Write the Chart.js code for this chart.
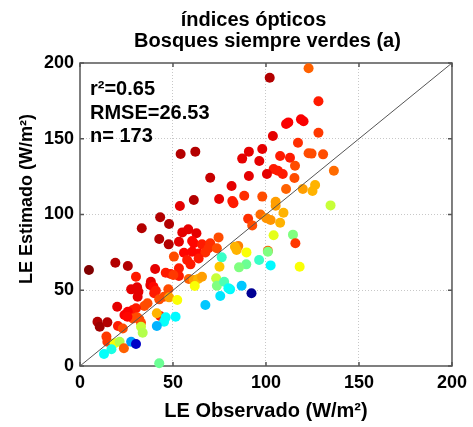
<!DOCTYPE html>
<html>
<head>
<meta charset="utf-8">
<script src="https://cdn.jsdelivr.net/npm/chart.js@4.4.0/dist/chart.umd.min.js"></script>
<style>
  html, body { margin: 0; padding: 0; background: #fff; }
  canvas { display: block; }
</style>
</head>
<body>
<canvas id="scatter" width="473" height="427"></canvas>
<script>
// LE observed vs estimated (W/m2), colour = jet index per site-day
const observed = [
  122.9, 102, 128.2, 110.8, 112, 118.8, 120.2, 128.2, 103.7, 117.2,
  90.8, 98, 87.2, 96.4, 107.6, 112.9, 122.9, 124.5, 130.7, 115.6,
  104.1, 106.4, 109, 100.5, 90.8, 115.3, 136.5, 110.8, 119.8, 126.4,
  125, 88.3, 98, 105.2, 105.2, 134.7, 97, 109.4, 90.4, 92.6,
  100.2, 102.5, 107.6, 104.1, 114.5, 115.8, 85.1, 89.5, 101, 101,
  96.3, 89.4, 85.5, 102.5, 118.1, 86.9, 92.2, 53.7, 61.2, 43.1,
  47.9, 33.2, 42.6, 47.7, 55, 58.2, 62.6, 60.3, 61.2, 53.2,
  65.6, 70, 74.5, 55.9, 60.3, 63.8, 67.4, 69.1, 73.6, 50.5,
  57.6, 59.4, 63.8, 76.2, 83.3, 84.2, 75, 19, 25.7, 4.8,
  30.1, 40.4, 46.1, 48.8, 53.2, 53.2, 50.2, 58.5, 61.2, 63.5,
  65.6, 61.7, 73.2, 73.6, 77.5, 80.7, 75.4, 67.4, 38.1, 37.8,
  30.7, 31.4, 31, 27.5, 39.5, 40.8, 39.9, 47.5, 45.2, 47.9,
  52.3, 42.6, 36.3, 34.6, 30.1, 28.4, 25.7, 23.9, 20, 30.7,
  31.9, 32.8, 28.4, 9.4, 10.6, 14.7, 20.4, 23, 43.1, 41.3,
  46.1, 45.2, 51.4, 41.3, 32.8, 33.7, 14.2, 14.7, 18.6, 21.3,
  23.6, 16.9, 12.9, 27.5, 30.1, 42.6, 54.1, 62, 70, 74.8,
  81.5, 81.9, 82.5, 25.5, 79.8
];
const estimated = [
  196.5, 190.3, 174.7, 159.7, 160.8, 162.8, 161.5, 154, 151.8, 147.4,
  141.5, 143.2, 136.9, 135.3, 138.6, 137.5, 140.4, 140.2, 139.7, 132.2,
  130, 128.9, 126.7, 126.7, 125.4, 124.1, 128.9, 116.8, 116.8, 119.5,
  115.5, 112.4, 111.8, 108.4, 105.8, 106, 100, 101.2, 97.2, 92.8,
  97.5, 96.4, 94.6, 86.3, 86.7, 81, 79.2, 75, 76.1, 75.4,
  70, 67.1, 65.1, 66.4, 65.5, 53, 48, 105.6, 109.6, 98.2,
  93.7, 90.9, 83.8, 80.3, 88.2, 90.2, 87.6, 82.5, 81, 82,
  80.3, 81, 84.9, 74.8, 75.4, 74.3, 75, 77.7, 77.7, 72.2,
  70, 67.1, 71, 71.7, 78.7, 76.6, 65.5, 68.2, 66, 63.4,
  58.9, 64, 61.6, 60.7, 64.5, 59.4, 60.1, 57.4, 56.8, 57.4,
  58.9, 52.8, 57.9, 53, 55.6, 50.6, 46.2, 40.3, 55.6, 53.5,
  51.9, 49, 45.7, 50.6, 52.3, 49.7, 48, 50.6, 45.7, 45.3,
  43.6, 44, 41.4, 39.6, 38.1, 37, 35.8, 33.7, 39.1, 32.1,
  30.8, 28.6, 31.4, 29.2, 25.9, 28.8, 26.4, 24.8, 33, 34.8,
  32.1, 29.2, 32.5, 26.4, 25.9, 22, 19.4, 16, 15, 16,
  11.7, 11, 7.9, 16, 14.5, 1.8, 139.9, 141.5, 124.3, 110.2,
  118.8, 108.9, 107.5, 32.5, 51.3
];
const colorValue = [
  0.78, 0.95, 0.85, 0.88, 0.88, 0.88, 0.88, 0.82, 0.9, 0.83,
  0.9, 0.9, 0.9, 0.9, 0.85, 0.85, 0.8, 0.8, 0.8, 0.8,
  0.85, 0.85, 0.85, 0.9, 0.9, 0.8, 0.77, 0.78, 0.72, 0.7,
  0.7, 0.83, 0.8, 0.72, 0.72, 0.57, 0.77, 0.7, 0.83, 0.8,
  0.73, 0.73, 0.7, 0.6, 0.5, 0.82, 0.75, 0.62, 0.78, 0.5,
  0.43, 0.48, 0.5, 0.37, 0.62, 0.32, 0.02, 0.9, 0.95, 0.95,
  0.95, 0.95, 0.95, 0.95, 0.9, 0.9, 0.9, 0.87, 0.87, 0.9,
  0.85, 0.83, 0.8, 0.87, 0.87, 0.87, 0.83, 0.83, 0.8, 0.8,
  0.85, 0.85, 0.85, 0.43, 0.7, 0.7, 0.68, 0.95, 0.95, 1.0,
  0.85, 0.9, 0.85, 0.85, 0.85, 0.85, 0.82, 0.78, 0.72, 0.7,
  0.72, 0.62, 0.57, 0.5, 0.45, 0.37, 0.35, 0.32, 0.9, 0.9,
  0.9, 0.9, 0.9, 0.9, 0.87, 0.85, 0.85, 0.8, 0.8, 0.72,
  0.62, 0.8, 0.8, 0.8, 0.85, 0.85, 0.88, 0.88, 0.9, 0.8,
  0.8, 0.8, 0.8, 0.95, 0.97, 0.95, 0.85, 0.8, 0.85, 0.7,
  0.38, 0.38, 0.37, 0.3, 0.57, 0.55, 0.82, 0.82, 0.62, 0.55,
  0.78, 0.4, 0.38, 0.28, 0.07, 0.48, 0.95, 0.95, 0.93, 0.9,
  0.9, 0.85, 0.85, 0.87, 0.38
];
const tickValues = [0, 50, 100, 150, 200];
const oneToOne = [0, 200];
const titleLines = ['índices ópticos', 'Bosques siempre verdes (a)'];
const statLines = ['r²=0.65', 'RMSE=26.53', 'n= 173'];
const xTitle = 'LE Observado (W/m²)';
const yTitle = 'LE Estimado (W/m²)';

const FONT = '"Liberation Sans", Arial, sans-serif';
Chart.defaults.font.family = FONT;
Chart.defaults.color = '#000';

// matlab-style jet colormap
function jet(v) {
  const c = t => Math.round(255 * Math.max(0, Math.min(1, t)));
  return `rgb(${c(1.5 - Math.abs(4 * v - 3))},${c(1.5 - Math.abs(4 * v - 2))},${c(1.5 - Math.abs(4 * v - 1))})`;
}

// box around the axes with inward tick marks
const frame = {
  id: 'frame',
  beforeDatasetsDraw(chart) {
    const { ctx, chartArea: a, scales: { x, y } } = chart;
    ctx.save();
    ctx.strokeStyle = '#555';
    ctx.lineWidth = 1.5;
    ctx.strokeRect(a.left, a.top, a.width, a.height);
    ctx.beginPath();
    tickValues.forEach(v => {
      const px = x.getPixelForValue(v);
      const py = y.getPixelForValue(v);
      ctx.moveTo(px, a.bottom); ctx.lineTo(px, a.bottom - 4);
      ctx.moveTo(px, a.top); ctx.lineTo(px, a.top + 4);
      ctx.moveTo(a.left, py); ctx.lineTo(a.left + 4, py);
      ctx.moveTo(a.right, py); ctx.lineTo(a.right - 4, py);
    });
    ctx.stroke();
    ctx.restore();
  }
};

// title, stats box and rotated y label
const texts = {
  id: 'texts',
  afterDraw(chart) {
    const { ctx, chartArea: a } = chart;
    ctx.save();
    ctx.fillStyle = '#000';
    ctx.font = `bold 20px ${FONT}`;
    ctx.textAlign = 'center';
    ctx.textBaseline = 'alphabetic';
    ctx.fillText(titleLines[0], 253.5, 26);
    ctx.fillText(titleLines[1], 267.5, 47);

    ctx.textAlign = 'left';
    statLines.forEach((s, i) => ctx.fillText(s, a.left + 10, 95 + i * 23.5));

    ctx.font = `bold 18px ${FONT}`;
    ctx.translate(32, 199);
    ctx.rotate(-Math.PI / 2);
    ctx.textAlign = 'center';
    ctx.fillText(yTitle, 0, 0);
    ctx.restore();
  }
};

const gridColor = c => (c.tick.value === 0 || c.tick.value === 200) ? 'rgba(0,0,0,0)' : '#c8c8c8';

new Chart(document.getElementById('scatter'), {
  type: 'scatter',
  data: {
    datasets: [
      {
        data: oneToOne.map(v => ({ x: v, y: v })),
        showLine: true,
        borderColor: '#555',
        borderWidth: 1,
        pointRadius: 0,
        order: 0
      },
      {
        data: observed.map((v, i) => ({ x: v, y: estimated[i] })),
        backgroundColor: colorValue.map(jet),
        borderWidth: 0,
        pointRadius: 5,
        clip: false,
        order: 1
      }
    ]
  },
  options: {
    responsive: false,
    animation: false,
    layout: { padding: { top: 63, right: 17, bottom: 0, left: 0 } },
    plugins: {
      legend: { display: false },
      tooltip: { enabled: false }
    },
    scales: {
      x: {
        min: 0,
        max: 200,
        afterBuildTicks: s => { s.ticks = tickValues.map(v => ({ value: v })); },
        afterFit: s => { s.height = 61; },
        grid: { color: gridColor, drawTicks: false, lineWidth: 1 },
        border: { display: false, dash: [1, 2] },
        ticks: { font: { size: 18, weight: 'bold' }, padding: 6, maxRotation: 0 },
        title: {
          display: true,
          text: xTitle,
          font: { size: 20, weight: 'bold' },
          padding: { top: 0, bottom: 4 }
        }
      },
      y: {
        min: 0,
        max: 200,
        afterBuildTicks: s => { s.ticks = tickValues.map(v => ({ value: v })); },
        afterFit: s => { s.width = 80; },
        grid: { color: gridColor, drawTicks: false, lineWidth: 1 },
        border: { display: false, dash: [1, 2] },
        ticks: { font: { size: 18, weight: 'bold' }, padding: 6 }
      }
    }
  },
  plugins: [frame, texts]
});
</script>
</body>
</html>
